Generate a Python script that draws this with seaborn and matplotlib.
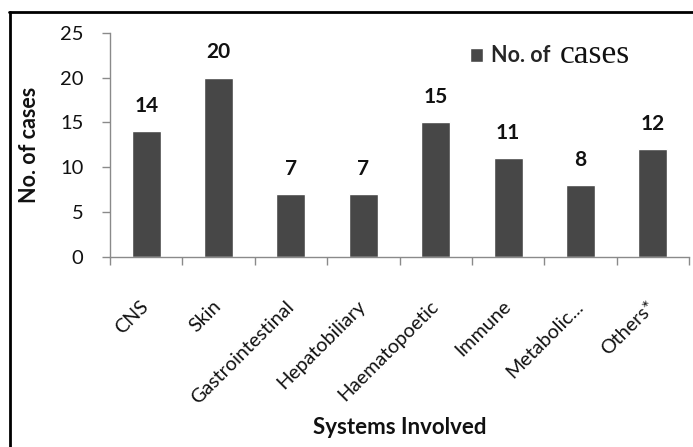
import matplotlib
matplotlib.use("Agg")
import matplotlib.pyplot as plt
from matplotlib.lines import Line2D
import seaborn as sns
import pandas as pd

# Adverse drug reactions grouped by the organ system involved
systems = ["CNS", "Skin", "Gastrointestinal", "Hepatobiliary", "Haematopoetic",
           "Immune", "Metabolic...", "Others*"]
cases = [14, 20, 7, 7, 15, 11, 8, 12]
y_ticks = [0, 5, 10, 15, 20, 25]

df = pd.DataFrame({"system": systems, "cases": cases})

sns.set_theme(style="white")
plt.rcParams["font.family"] = ["Lato", "DejaVu Sans"]

W, H = 693, 447
fig = plt.figure(figsize=(W / 100, H / 100), dpi=100)
fig.patch.set_facecolor("white")

# plot area in pixel terms
x0, x1 = 110, 689
y_top, y_zero = 33, 256.5
ax = fig.add_axes([x0 / W, (H - y_zero) / H, (x1 - x0) / W, (y_zero - y_top) / H])

bar_color = "#474747"
sns.barplot(data=df, x="system", y="cases", color=bar_color, width=0.4,
            saturation=1, ax=ax, label="No. of")
if ax.get_legend() is not None:
    ax.get_legend().remove()

ax.set_ylim(0, 25)
ax.set_xlim(-0.5, len(systems) - 0.5)
ax.set_yticks(y_ticks)

for cont in ax.containers:
    ax.bar_label(cont, labels=[str(v) for v in cases], padding=11,
                 fontsize=15, fontweight="bold", color="#111111")

# axes styling
axis_gray = "#8a8a8a"
for side in ["top", "right"]:
    ax.spines[side].set_visible(False)
for side in ["left", "bottom"]:
    ax.spines[side].set_color(axis_gray)
    ax.spines[side].set_linewidth(1.0)

ax.tick_params(axis="y", which="major", direction="out", length=6, width=1,
               color=axis_gray, pad=13, labelsize=14.5, labelcolor="#111111", left=True)
# category boundaries carry the x tick marks
ax.set_xticks([i - 0.5 for i in range(len(systems) + 1)], minor=True)
ax.tick_params(axis="x", which="minor", direction="out", length=6, width=1,
               color=axis_gray, bottom=True)
ax.tick_params(axis="x", which="major", length=0, pad=34, labelsize=14.2,
               labelcolor="#111111")
for lbl in ax.get_xticklabels():
    lbl.set_rotation(45)
    lbl.set_ha("right")
    lbl.set_va("center")
    lbl.set_rotation_mode("anchor")

ax.set_xlabel("Systems Involved", fontsize=16, fontweight="bold", color="#111111")
ax.xaxis.label.set_va("center")
ax.xaxis.set_label_coords(0.5, (y_zero - 427) / (y_zero - y_top))
ax.set_ylabel("No. of cases", fontsize=15.5, fontweight="bold", color="#111111")
ax.yaxis.label.set_va("center")
ax.yaxis.set_label_coords((30 - x0) / (x1 - x0), 0.5)

# legend: bold sans entry followed by a serif word
handles, labels = ax.get_legend_handles_labels()
leg = fig.legend(handles[:1], labels[:1], loc="center left",
                 bbox_to_anchor=(470 / W, (H - 56) / H), frameon=False,
                 borderpad=0, borderaxespad=0, handlelength=0.62,
                 handleheight=0.62, handletextpad=0.35,
                 prop={"family": ["Lato", "DejaVu Sans"], "weight": "bold", "size": 15.5})
fig.text(560 / W, (H - 63) / H, "cases", family=["Liberation Serif", "DejaVu Serif"],
         fontsize=24, color="#111111", va="baseline", ha="left")

# outer frame of the chart
fig.add_artist(Line2D([9.5 / W, 9.5 / W], [0, (H - 12) / H], color="black", lw=2,
                      transform=fig.transFigure))
fig.add_artist(Line2D([8.5 / W, 1.0], [(H - 12) / H, (H - 12) / H], color="black", lw=2,
                      transform=fig.transFigure))

fig.savefig("out.png", dpi=100, facecolor="white")
